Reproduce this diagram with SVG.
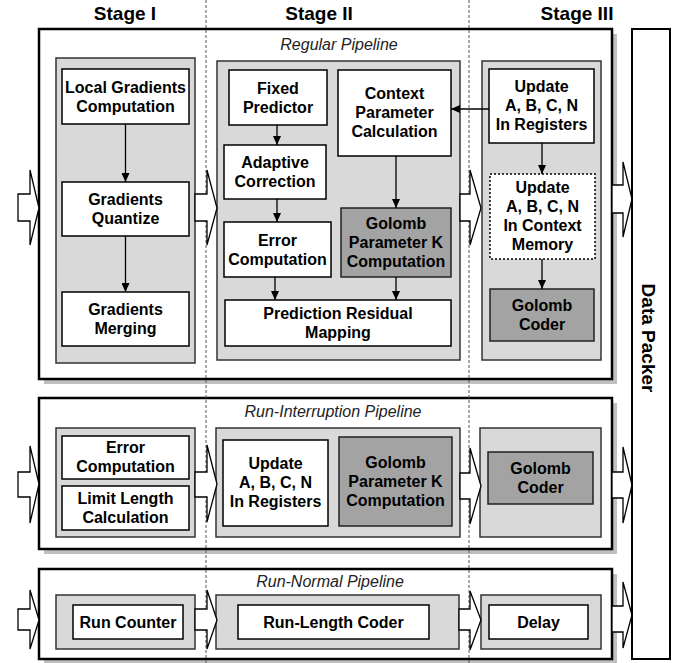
<svg xmlns="http://www.w3.org/2000/svg" width="678" height="663" viewBox="0 0 678 663">
<style>
.stage{font-family:"Liberation Sans",Arial,sans-serif;font-weight:bold;font-size:19px;text-anchor:middle;fill:#000}
.pl{font-family:"Liberation Sans",Arial,sans-serif;font-style:italic;font-size:16px;text-anchor:middle;fill:#222}
.t{font-family:"Liberation Sans",Arial,sans-serif;font-weight:bold;font-size:16px;text-anchor:middle;fill:#000}
.outer{fill:#fff;stroke:#000;stroke-width:2.5}
.shadow{fill:#c0c0c0}
.sg{fill:#d9d9d9;stroke:#333;stroke-width:1.5}
.wb{fill:#fff;stroke:#000;stroke-width:1.5}
.db{fill:#a3a3a3;stroke:#222;stroke-width:1.5}
.dot{fill:#fff;stroke:#000;stroke-width:1.5;stroke-dasharray:2,2}
.fat{fill:#fff;stroke:#000;stroke-width:1.3;stroke-linejoin:miter}
.dash{stroke:#555;stroke-width:1;stroke-dasharray:3,2}
.c{stroke:#000;stroke-width:1.3;fill:none}
</style>
<defs>
<marker id="ah" markerWidth="9" markerHeight="8" refX="9" refY="4" orient="auto" markerUnits="userSpaceOnUse">
<path d="M0,0 L9,4 L0,8 z" fill="#000"/>
</marker>
</defs>

<g id="headers">
<text class="stage" x="125" y="20">Stage I</text>
<text class="stage" x="319" y="20">Stage II</text>
<text class="stage" x="577" y="20">Stage III</text>
</g>

<g id="pipeline-frames">
<rect class="shadow" x="44" y="34" width="573" height="350"/>
<rect class="outer" x="39" y="29" width="573" height="350"/>
<rect class="shadow" x="44" y="403" width="573" height="151"/>
<rect class="outer" x="39" y="398" width="573" height="151"/>
<rect class="shadow" x="44" y="574" width="573" height="90"/>
<rect class="outer" x="39" y="569" width="573" height="90"/>
</g>

<g id="stage-dividers">
<line class="dash" x1="206" y1="0" x2="206" y2="663"/>
<line class="dash" x1="469" y1="0" x2="469" y2="663"/>
</g>

<g id="pipeline-labels">
<text class="pl" x="339" y="50">Regular Pipeline</text>
<text class="pl" x="333" y="417">Run-Interruption Pipeline</text>
<text class="pl" x="330" y="587">Run-Normal Pipeline</text>
</g>

<g id="stage-panels">
<rect class="sg" x="56" y="58" width="139" height="305"/>
<rect class="sg" x="217" y="61" width="243" height="299"/>
<rect class="sg" x="482" y="61" width="119" height="299"/>
<rect class="sg" x="56" y="428" width="139" height="109"/>
<rect class="sg" x="216" y="428" width="244" height="109"/>
<rect class="sg" x="480" y="428" width="121" height="109"/>
<rect class="sg" x="56" y="595" width="139" height="54"/>
<rect class="sg" x="216" y="595" width="243" height="54"/>
<rect class="sg" x="481" y="595" width="120" height="54"/>
</g>

<g id="data-flow-arrows">
<polygon class="fat" points="18,194 30,194 30,170 39,208 30,245 30,221 18,221"/>
<polygon class="fat" points="195,194 207,194 207,170 217,208 207,245 207,221 195,221"/>
<polygon class="fat" points="460,194 470,194 470,170 481,208 470,245 470,221 460,221"/>
<polygon class="fat" points="612,185 623,185 623,162 632,199 623,237 623,213 612,213"/>
<polygon class="fat" points="18,472 30,472 30,446 39,484 30,523 30,497 18,497"/>
<polygon class="fat" points="195,472 207,472 207,445 217,484 207,522 207,497 195,497"/>
<polygon class="fat" points="460,473 470,473 470,448 481,486 470,524 470,499 460,499"/>
<polygon class="fat" points="612,472 623,472 623,447 632,485 623,523 623,498 612,498"/>
<polygon class="fat" points="18,609 30,609 30,590 39,620 30,649 30,630 18,630"/>
<polygon class="fat" points="195,609 207,609 207,590 217,620 207,649 207,630 195,630"/>
<polygon class="fat" points="459,609 470,609 470,591 481,620 470,650 470,630 459,630"/>
<polygon class="fat" points="612,606 623,606 623,582 632,615 623,648 623,632 612,632"/>
</g>

<g id="local-gradients">
<rect class="wb" x="62" y="69" width="127" height="55"/>
<text class="t" x="125.5" y="93">Local Gradients</text>
<text class="t" x="125.5" y="112">Computation</text>
</g>
<g id="gradients-quantize">
<rect class="wb" x="62" y="182" width="127" height="54"/>
<text class="t" x="125.5" y="205">Gradients</text>
<text class="t" x="125.5" y="224">Quantize</text>
</g>
<g id="gradients-merging">
<rect class="wb" x="62" y="292" width="127" height="54"/>
<text class="t" x="125.5" y="315">Gradients</text>
<text class="t" x="125.5" y="334">Merging</text>
</g>
<g id="fixed-predictor">
<rect class="wb" x="229" y="70" width="98" height="55"/>
<text class="t" x="278" y="94">Fixed</text>
<text class="t" x="278" y="113">Predictor</text>
</g>
<g id="adaptive-correction">
<rect class="wb" x="224" y="145" width="102" height="54"/>
<text class="t" x="275" y="168">Adaptive</text>
<text class="t" x="275" y="187">Correction</text>
</g>
<g id="error-computation">
<rect class="wb" x="224" y="222" width="107" height="55"/>
<text class="t" x="277.5" y="246">Error</text>
<text class="t" x="277.5" y="265">Computation</text>
</g>
<g id="prediction-residual-mapping">
<rect class="wb" x="225" y="300" width="226" height="46"/>
<text class="t" x="338" y="319">Prediction Residual</text>
<text class="t" x="338" y="338">Mapping</text>
</g>
<g id="context-parameter">
<rect class="wb" x="338" y="70" width="113" height="86"/>
<text class="t" x="394.5" y="99">Context</text>
<text class="t" x="394.5" y="118">Parameter</text>
<text class="t" x="394.5" y="137">Calculation</text>
</g>
<g id="golomb-k-regular">
<rect class="db" x="341" y="208" width="110" height="69"/>
<text class="t" x="396" y="229">Golomb</text>
<text class="t" x="396" y="248">Parameter K</text>
<text class="t" x="396" y="267">Computation</text>
</g>
<g id="update-registers-regular">
<rect class="wb" x="489" y="69" width="105" height="74"/>
<text class="t" x="541.5" y="92">Update</text>
<text class="t" x="541.5" y="111">A, B, C, N</text>
<text class="t" x="541.5" y="130">In Registers</text>
</g>
<g id="update-context-memory">
<rect class="dot" x="490" y="174" width="105" height="85"/>
<text class="t" x="542.5" y="193">Update</text>
<text class="t" x="542.5" y="212">A, B, C, N</text>
<text class="t" x="542.5" y="231">In Context</text>
<text class="t" x="542.5" y="250">Memory</text>
</g>
<g id="golomb-coder-regular">
<rect class="db" x="490" y="289" width="104" height="52"/>
<text class="t" x="542" y="311">Golomb</text>
<text class="t" x="542" y="330">Coder</text>
</g>

<g id="error-computation-ri">
<rect class="wb" x="62" y="436" width="127" height="43"/>
<text class="t" x="125.5" y="453">Error</text>
<text class="t" x="125.5" y="472">Computation</text>
</g>
<g id="limit-length">
<rect class="wb" x="62" y="486" width="127" height="44"/>
<text class="t" x="125.5" y="504">Limit Length</text>
<text class="t" x="125.5" y="523">Calculation</text>
</g>
<g id="update-registers-ri">
<rect class="wb" x="223" y="440" width="105" height="86"/>
<text class="t" x="275.5" y="469">Update</text>
<text class="t" x="275.5" y="488">A, B, C, N</text>
<text class="t" x="275.5" y="507">In Registers</text>
</g>
<g id="golomb-k-ri">
<rect class="db" x="339" y="437" width="113" height="89"/>
<text class="t" x="395.5" y="468">Golomb</text>
<text class="t" x="395.5" y="487">Parameter K</text>
<text class="t" x="395.5" y="506">Computation</text>
</g>
<g id="golomb-coder-ri">
<rect class="db" x="488" y="452" width="105" height="52"/>
<text class="t" x="540.5" y="474">Golomb</text>
<text class="t" x="540.5" y="493">Coder</text>
</g>

<g id="run-counter">
<rect class="wb" x="73" y="605" width="110" height="34"/>
<text class="t" x="128" y="628">Run Counter</text>
</g>
<g id="run-length-coder">
<rect class="wb" x="238" y="605" width="191" height="34"/>
<text class="t" x="333.5" y="628">Run-Length Coder</text>
</g>
<g id="delay">
<rect class="wb" x="489" y="605" width="99" height="34"/>
<text class="t" x="538.5" y="628">Delay</text>
</g>

<g id="data-packer">
<rect x="632" y="29" width="38" height="630" fill="#fff" stroke="#000" stroke-width="2"/>
<text class="stage" transform="translate(642,338) rotate(90)">Data Packer</text>
</g>

<g id="connectors">
<line class="c" x1="125.5" y1="124" x2="125.5" y2="182" marker-end="url(#ah)"/>
<line class="c" x1="125.5" y1="236" x2="125.5" y2="292" marker-end="url(#ah)"/>
<line class="c" x1="277" y1="125" x2="277" y2="145" marker-end="url(#ah)"/>
<line class="c" x1="277" y1="199" x2="277" y2="222" marker-end="url(#ah)"/>
<line class="c" x1="275" y1="277" x2="275" y2="300" marker-end="url(#ah)"/>
<line class="c" x1="396" y1="156" x2="396" y2="208" marker-end="url(#ah)"/>
<line class="c" x1="396" y1="277" x2="396" y2="300" marker-end="url(#ah)"/>
<line class="c" x1="489" y1="109" x2="451" y2="109" marker-end="url(#ah)"/>
<line class="c" x1="542" y1="143" x2="542" y2="174" marker-end="url(#ah)"/>
<line class="c" x1="542" y1="259" x2="542" y2="289" marker-end="url(#ah)"/>
</g>
</svg>
